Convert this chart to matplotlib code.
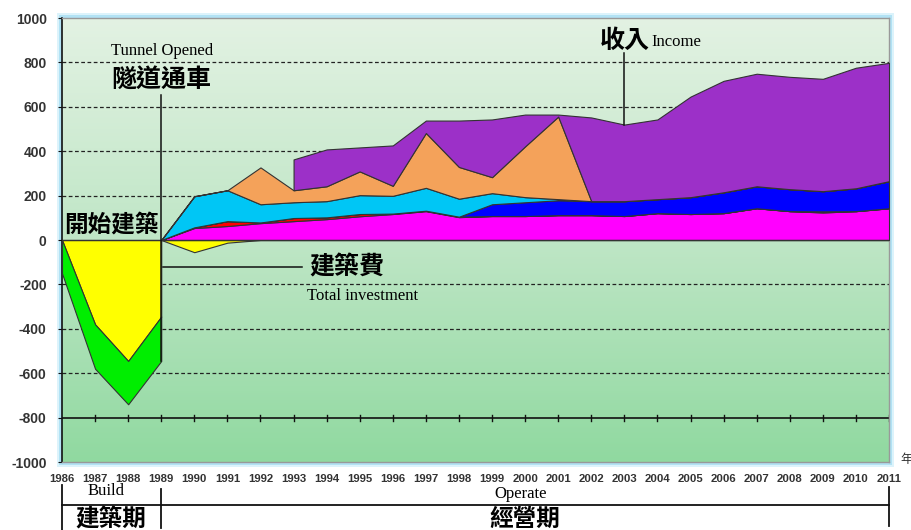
import numpy as np
import matplotlib.pyplot as plt
from matplotlib.colors import LinearSegmentedColormap
from matplotlib.patches import Rectangle
from matplotlib.lines import Line2D

# build period (1986-1989)
build_years = [1986, 1987, 1988, 1989]
build_cost = [0, -380, -545, -345]
build_interest = [-150, -200, -195, -200]

# operation period (1989-2011)
op_years = list(range(1989, 2012))
op_cost = [0, -55, -12, 0, 0, 0, 0, 0, 0, 0, 0, 0, 0, 0, 0, 0, 0, 0, 0, 0, 0, 0, 0]
magenta = [0, 54, 63, 76, 85, 94, 107, 117, 130, 103, 108, 108, 112, 112, 108, 121, 117, 121, 143, 130, 124, 130, 143]
red = [0, 3, 22, 3, 14, 8, 10, 2, 2, 2, 0, 0, 0, 0, 0, 0, 0, 0, 0, 0, 5, 0, 0]
blue = [0, 0, 0, 0, 0, 0, 0, 0, 0, 0, 53, 62, 67, 63, 67, 63, 76, 94, 99, 99, 91, 103, 122]
cyan = [0, 140, 139, 82, 71, 73, 85, 80, 103, 81, 50, 23, 5, 0, 0, 0, 0, 0, 0, 0, 0, 0, 0]
orange = [0, 0, 0, 166, 54, 67, 107, 45, 247, 143, 72, 229, 372, 0, 0, 0, 0, 0, 0, 0, 0, 0, 0]
purple = [0, 0, 0, 0, 139, 166, 108, 182, 56, 209, 260, 143, 9, 377, 345, 359, 453, 502, 507, 506, 506, 543, 533]

all_years = list(range(1986, 2012))
y_ticks = list(range(-1000, 1001, 200))
grid_vals = [800, 600, 400, 200, -200, -400, -600]

W, H = 912, 530
fig = plt.figure(figsize=(W / 100, H / 100), dpi=100)
fig.patch.set_facecolor('white')

def fx(px):
    return px / W

def fy(py):
    return 1 - py / H

# light blue glow behind plot area
fig.patches.append(Rectangle((fx(57), fy(467)), fx(894) - fx(57), fy(13) - fy(467),
                             transform=fig.transFigure, facecolor='#dcf3fb',
                             edgecolor='none', zorder=-2))
fig.patches.append(Rectangle((fx(59), fy(465)), fx(892) - fx(59), fy(15) - fy(465),
                             transform=fig.transFigure, facecolor='#b2e2f4',
                             edgecolor='none', zorder=-1))

ax = fig.add_axes([fx(62), fy(462), fx(889) - fx(62), fy(18) - fy(462)])
ax.set_zorder(1)
ax.set_xlim(1986, 2011)
ax.set_ylim(-1000, 1000)

cmap = LinearSegmentedColormap.from_list('bg', ['#e3f2e3', '#bfe6c6', '#90d9a0'])
grad = np.linspace(0, 1, 256).reshape(-1, 1)
ax.imshow(grad, extent=[1986, 2011, -1000, 1000], aspect='auto', cmap=cmap,
          origin='upper', zorder=0)

for g in grid_vals:
    ax.axhline(g, color='#222222', lw=0.9, ls=(0, (3, 2)), zorder=1)

edge = '#333333'
# construction period
ax.fill_between(build_years, 0, build_cost, facecolor='#ffff00', edgecolor=edge, lw=0.8, zorder=3)
cb = np.array(build_cost)
ax.fill_between(build_years, cb, cb + np.array(build_interest), facecolor='#00ee00',
                edgecolor=edge, lw=0.8, zorder=3)
ax.fill_between(op_years, 0, op_cost, facecolor='#ffff00', edgecolor=edge, lw=0.8, zorder=3)

# operation period stacked income
base = np.zeros(len(op_years))
years_arr = np.array(op_years)
layers = [(magenta, '#ff00ff'), (red, '#ff0000'), (blue, '#0000ff'),
          (cyan, '#00c6f5'), (orange, '#f4a25a'), (purple, '#9c30c8')]
for vals, col in layers:
    v = np.array(vals, dtype=float)
    if col == '#9c30c8':
        ax.fill_between(years_arr, base, base + v, where=years_arr >= 1993,
                        facecolor=col, edgecolor=edge, lw=0.8, zorder=3)
    else:
        ax.fill_between(years_arr, base, base + v, facecolor=col, edgecolor=edge,
                        lw=0.8, zorder=3)
    base = base + v

ax.axhline(0, color='#333333', lw=1.0, zorder=4)

# axis line with cross ticks at -800
ax.axhline(-800, color='#111111', lw=1.2, zorder=2)
for yr in all_years[1:]:
    ax.plot([yr, yr], [-815, -787], color='#111111', lw=1.0, zorder=2)

ax.set_yticks(y_ticks)
ax.set_yticklabels([str(v) for v in y_ticks], fontweight='bold', fontsize=10,
                   family='Liberation Sans', color='#333333')
ax.set_xticks(all_years)
ax.set_xticklabels([str(v) for v in all_years], fontweight='bold', fontsize=8.2,
                   family='Liberation Sans', color='#333333')
ax.tick_params(axis='x', length=0, pad=9)
ax.tick_params(axis='y', length=3, pad=8, color='#111111')
ax.spines['left'].set_color('#111111')
ax.spines['left'].set_linewidth(1.2)
for s in ['top', 'right', 'bottom']:
    ax.spines[s].set_color('#999999')
    ax.spines[s].set_linewidth(1.0)

cjk = ['Noto Sans CJK TC', 'DejaVu Sans']
serif = 'Liberation Serif'
cw = 'bold'

ax.text(1989.02, 850, 'Tunnel Opened', family=serif, fontsize=12, ha='center', va='center', zorder=5)
ax.text(1989.0, 720, '隧道通車', family=cjk, fontsize=18, fontweight=cw, ha='center', va='center', zorder=5)
ax.plot([1989, 1989], [655, -545], color='#111111', lw=1.1, zorder=5)

ax.text(1987.5, 70, '開始建築', family=cjk, fontsize=17, fontweight=cw, ha='center', va='center', zorder=5)

ax.plot([1989.05, 1993.25], [-120, -120], color='#111111', lw=1.1, zorder=5)
ax.text(1994.6, -125, '建築費', family=cjk, fontsize=18, fontweight=cw, ha='center', va='center', zorder=5)
ax.text(1995.1, -251, 'Total investment', family=serif, fontsize=12, ha='center', va='center', zorder=5)

ax.text(2003.0, 897, '收入', family=cjk, fontsize=18, fontweight=cw, ha='center', va='center', zorder=5)
ax.text(2003.82, 892, 'Income', family=serif, fontsize=12, ha='left', va='center', zorder=5)
ax.plot([2003, 2003], [843, 520], color='#111111', lw=1.1, zorder=5)

# bottom period brackets
def fig_line(xs, ys):
    fig.lines.append(Line2D([fx(x) for x in xs], [fy(y) for y in ys],
                            transform=fig.transFigure, color='#111111', lw=1.3))

fig_line([62, 62], [485, 530])
fig_line([161, 161], [489, 528])
fig_line([889, 889], [487, 526])
fig_line([62, 889], [505, 505])

fig.text(fx(106), fy(491), 'Build', family=serif, fontsize=12, ha='center', va='center')
fig.text(fx(521), fy(494), 'Operate', family=serif, fontsize=12, ha='center', va='center')
fig.text(fx(111), fy(519), '建築期', family=cjk, fontsize=17, fontweight=cw, ha='center', va='center')
fig.text(fx(525), fy(519), '經營期', family=cjk, fontsize=17, fontweight=cw, ha='center', va='center')
fig.text(fx(900), fy(460), '年', family=cjk, fontsize=9, ha='left', va='center', color='#333333')

fig.savefig('out.png', dpi=100)
